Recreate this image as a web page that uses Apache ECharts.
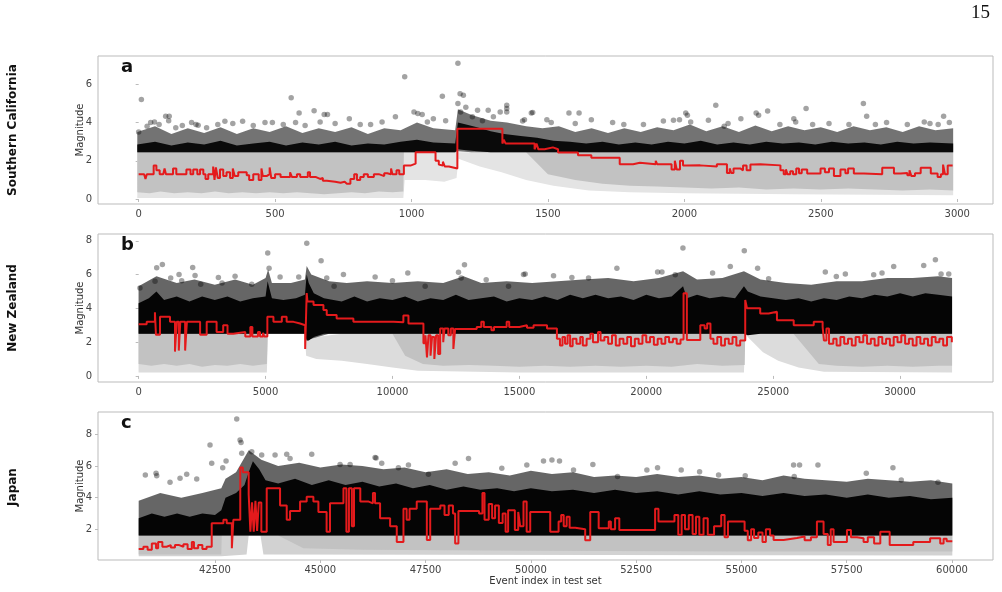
<!DOCTYPE html>
<html>
<head>
<meta charset="utf-8">
<script src="https://cdn.jsdelivr.net/npm/echarts@6/dist/echarts.min.js"></script>
<style>
  html, body { margin: 0; padding: 0; background: #fff; }
  #chart { width: 1002px; height: 592px; }
</style>
</head>
<body>
<div id="chart"></div>
<script>
(function() {
  'use strict';

  // tick labels
  var aXTicks = [0, 500, 1000, 1500, 2000, 2500, 3000];
  var bXTicks = [0, 5000, 10000, 15000, 20000, 25000, 30000];
  var cXTicks = [42500, 45000, 47500, 50000, 52500, 55000, 57500, 60000];
  var abYTicks = [0, 2, 4, 6];
  var bYTicks = [0, 2, 4, 6, 8];
  var cYTicks = [2, 4, 6, 8];

  var rowNames = ['Southern California', 'New Zealand', 'Japan'];
  var panelLetters = ['a', 'b', 'c'];

  // ---- a: Southern California ----
  // cloud envelopes: [event index, lower magnitude, upper magnitude]
  var aGraySparse = [[-5,0.05,2.45],[970,0.05,2.45],[975,1.0,2.45],[1050,1.0,2.45],[1120,0.9,2.45],
    [1165,1.1,2.45],[1172,2.1,2.45],[1250,1.7,2.45],[1330,1.4,2.45],[1420,1.0,2.45],[1520,0.7,2.45],
    [1650,0.45,2.45],[1800,0.35,2.45],[2000,0.3,2.45],[2400,0.25,2.45],[2985,0.2,2.45]];
  var aGrayDense = [[-5,0.35,2.45],[40,0.3,2.45],[80,0.4,2.45],[130,0.3,2.45],[180,0.35,2.45],
    [230,0.3,2.45],[280,0.4,2.45],[330,0.3,2.45],[380,0.35,2.45],[430,0.3,2.45],[480,0.35,2.45],
    [530,0.3,2.45],[580,0.35,2.45],[630,0.3,2.45],[680,0.25,2.45],[730,0.3,2.45],[780,0.35,2.45],
    [830,0.3,2.45],[880,0.4,2.45],[930,0.35,2.45],[970,0.4,2.45],[972,2.45,2.45],[1420,2.45,2.45],
    [1500,1.3,2.45],[1600,1.0,2.45],[1700,0.8,2.45],[1800,0.7,2.45],[1900,0.65,2.45],[2000,0.6,2.45],
    [2100,0.55,2.45],[2200,0.6,2.45],[2300,0.5,2.45],[2400,0.55,2.45],[2500,0.5,2.45],[2600,0.55,2.45],
    [2700,0.5,2.45],[2800,0.45,2.45],[2900,0.5,2.45],[2985,0.45,2.45]];
  var aBlackSparse = [[-5,2.45,3.5],[60,2.45,3.8],[120,2.45,3.4],[180,2.45,3.7],[240,2.45,3.45],
    [300,2.45,3.75],[360,2.45,3.4],[420,2.45,3.7],[480,2.45,3.5],[540,2.45,3.8],[600,2.45,3.45],
    [660,2.45,3.7],[720,2.45,3.5],[780,2.45,3.75],[840,2.45,3.4],[900,2.45,3.7],[960,2.45,3.6],
    [1020,2.45,4.0],[1080,2.45,3.7],[1160,2.45,3.6],[1170,2.5,4.7],[1220,2.45,4.4],[1290,2.45,4.1],
    [1350,2.45,4.0],[1420,2.45,3.8],[1480,2.45,3.7],[1540,2.45,3.8],[1600,2.45,3.5],[1660,2.45,3.7],
    [1720,2.45,3.45],[1780,2.45,3.7],[1840,2.45,3.5],[1900,2.45,3.75],[1960,2.45,3.6],[2020,2.45,3.9],
    [2080,2.45,3.55],[2140,2.45,3.8],[2200,2.45,3.5],[2260,2.45,3.85],[2320,2.45,3.55],[2380,2.45,3.8],
    [2440,2.45,3.6],[2500,2.45,3.75],[2560,2.45,3.5],[2620,2.45,3.8],[2680,2.45,3.6],[2740,2.45,3.75],
    [2800,2.45,3.5],[2860,2.45,3.8],[2920,2.45,3.6],[2985,2.45,3.7]];
  var aBlackDense = [[-5,2.45,2.85],[60,2.45,3.0],[120,2.45,2.8],[180,2.45,2.95],[240,2.45,2.85],
    [300,2.45,3.05],[360,2.45,2.8],[420,2.45,2.9],[480,2.45,3.0],[540,2.45,2.8],[600,2.45,2.95],
    [660,2.45,2.85],[720,2.45,3.0],[780,2.45,2.8],[840,2.45,2.9],[900,2.45,2.85],[960,2.45,3.0],
    [1020,2.45,3.1],[1080,2.45,2.95],[1160,2.45,2.9],[1170,2.6,4.0],[1200,2.55,3.9],[1240,2.5,3.75],
    [1290,2.45,3.55],[1340,2.45,3.4],[1400,2.45,3.3],[1460,2.45,3.2],[1520,2.45,3.05],[1580,2.45,3.0],
    [1640,2.45,2.9],[1700,2.45,3.0],[1760,2.45,2.85],[1820,2.45,2.95],[1880,2.45,2.85],[1940,2.45,3.0],
    [2000,2.45,2.9],[2060,2.45,3.05],[2120,2.45,2.85],[2180,2.45,2.95],[2240,2.45,2.85],[2300,2.45,3.0],
    [2360,2.45,2.9],[2420,2.45,2.95],[2480,2.45,2.85],[2540,2.45,3.0],[2600,2.45,2.9],[2660,2.45,2.95],
    [2720,2.45,2.85],[2780,2.45,3.0],[2840,2.45,2.9],[2900,2.45,2.95],[2985,2.45,2.9]];
  var aDots = [[10,5.2],[0,3.5],[31,3.8],[44,4.0],[58,4.03],[99,4.33],[112,4.33],[110,4.1],[136,3.73],
    [194,4.0],[210,3.9],[218,3.86],[249,3.73],[316,4.07],[381,4.07],[463,4.0],[490,4.0],[559,5.3],
    [588,4.5],[575,4.0],[643,4.62],[680,4.42],[692,4.42],[665,4.03],[772,4.2],[812,3.9],[892,4.03],
    [975,6.4],[941,4.3],[1009,4.55],[1023,4.47],[1039,4.42],[1058,4.03],[1113,5.37],[1125,4.1],
    [1170,7.1],[1170,5.0],[1178,5.5],[1190,5.43],[1180,4.55],[1199,4.8],[1242,4.64],[1281,4.64],
    [1349,4.9],[1349,4.73],[1349,4.55],[1325,4.55],[1407,4.08],[1444,4.52],[1223,4.3],[1260,4.1],
    [1439,4.5],[1414,4.15],[1496,4.15],[1512,4.0],[1577,4.5],[1614,4.5],[1659,4.15],[1737,4.0],
    [1778,3.9],[1923,4.08],[1960,4.12],[1982,4.15],[2005,4.5],[2011,4.38],[2023,4.03],[2088,4.12],
    [2115,4.9],[2146,3.8],[2207,4.2],[2263,4.5],[2272,4.38],[2305,4.6],[2401,4.2],[2408,4.03],
    [2446,4.73],[2470,3.9],[2603,3.9],[2656,5.0],[2668,4.33],[2741,4.0],[2817,3.9],[2879,4.03],
    [2950,4.33],[2971,4.0],[2930,3.9],[75,3.9],[160,3.85],[290,3.9],[345,3.95],[420,3.85],[530,3.9],
    [610,3.85],[720,3.95],[850,3.9],[1080,4.2],[1300,4.3],[1600,3.95],[1850,3.9],[2160,3.95],
    [2350,3.9],[2530,3.95],[2700,3.9],[2900,3.95]];
  // predicted completeness, step held from each point onward
  var aRed = [[0,1.3],[20,1.25],[25,1.05],[30,1.3],[47,1.3],[55,1.75],[65,1.5],[77,1.3],[90,1.3],
    [95,1.6],[100,1.3],[126,1.6],[138,1.3],[175,1.55],[190,1.3],[200,1.55],[215,1.3],[225,1.55],
    [237,1.3],[245,1.05],[255,1.3],[273,1.7],[278,1.0],[283,1.65],[290,1.1],[298,1.55],[310,1.2],
    [322,1.4],[335,1.1],[345,1.6],[352,1.2],[365,1.4],[396,1.25],[405,1.0],[420,1.3],[440,1.0],
    [450,1.6],[455,1.2],[469,1.3],[480,1.65],[486,1.1],[500,1.3],[520,1.15],[543,1.15],[555,1.4],
    [562,1.15],[580,1.3],[592,1.15],[620,1.4],[628,1.15],[650,1.05],[665,1.1],[675,0.95],[690,0.9],
    [720,0.85],[740,0.9],[755,0.8],[763,0.8],[776,1.05],[790,1.3],[800,1.0],[812,1.15],[825,1.3],
    [840,1.15],[862,1.3],[880,1.4],[886,1.2],[900,1.35],[911,1.3],[925,1.6],[930,1.3],[945,1.5],
    [955,1.3],[972,1.75],[996,1.85],[1015,2.45],[1088,2.0],[1100,1.8],[1107,1.75],[1115,1.95],
    [1122,1.7],[1137,1.6],[1168,3.68],[1333,2.9],[1338,3.1],[1345,2.9],[1451,2.6],[1458,2.9],
    [1465,2.6],[1488,2.7],[1518,2.6],[1537,2.43],[1610,2.29],[1659,2.16],[1763,1.82],[1812,1.9],
    [1837,1.82],[1895,2.0],[1900,1.82],[1953,1.54],[1965,2.0],[1972,1.54],[1984,2.0],[1995,1.75],
    [2009,1.76],[2058,1.7],[2119,1.82],[2156,1.36],[2166,1.6],[2172,1.36],[2180,1.6],[2205,1.5],
    [2215,1.75],[2228,1.5],[2242,1.8],[2254,1.82],[2278,1.76],[2352,1.5],[2364,1.29],[2372,1.55],
    [2378,1.29],[2388,1.45],[2398,1.3],[2410,1.6],[2420,1.35],[2430,1.55],[2450,1.33],[2499,1.6],
    [2515,1.4],[2530,1.6],[2548,1.2],[2572,1.55],[2590,1.35],[2600,1.6],[2621,1.33],[2658,1.29],
    [2725,1.64],[2768,1.33],[2793,1.36],[2817,1.25],[2825,1.5],[2832,1.2],[2845,1.35],[2866,1.64],
    [2903,1.33],[2928,1.15],[2940,1.3],[2948,1.8],[2955,1.3],[2965,1.75],[2983,1.75]];

  // ---- b: New Zealand ----
  var bGraySparse = [[-5,0.2,2.5],[5050,0.2,2.5],[5100,2.5,2.5],[6540,2.5,2.5],[6600,1.2,2.4],
    [7000,1.0,2.3],[8000,0.9,2.5],[9000,0.7,2.5],[10000,0.5,2.5],[11000,0.3,2.5],[15000,0.2,2.5],
    [20000,0.2,2.5],[23850,0.2,2.5],[23900,2.5,2.5],[24000,2.3,2.5],[24600,1.4,2.5],[25200,0.9,2.5],
    [26000,0.5,2.5],[27000,0.25,2.5],[32050,0.2,2.5]];
  var bGrayDense = [[-5,0.7,2.5],[500,0.6,2.5],[1000,0.7,2.5],[1500,0.6,2.5],[2000,0.7,2.5],
    [2500,0.55,2.5],[3000,0.65,2.5],[3500,0.6,2.5],[4000,0.7,2.5],[4500,0.6,2.5],[5050,0.7,2.5],
    [5080,2.5,2.5],[10000,2.5,2.5],[10500,1.2,2.5],[11200,0.7,2.5],[12000,0.6,2.5],[13000,0.65,2.5],
    [14000,0.6,2.5],[15000,0.55,2.5],[16000,0.6,2.5],[17000,0.55,2.5],[18000,0.6,2.5],[19000,0.55,2.5],
    [20000,0.6,2.5],[21000,0.55,2.5],[22000,0.7,2.5],[23000,0.6,2.5],[23880,0.65,2.5],[23900,2.5,2.5],
    [25800,2.5,2.5],[26800,0.7,2.5],[27500,0.6,2.5],[28500,0.55,2.5],[29500,0.6,2.5],[30500,0.55,2.5],
    [31500,0.6,2.5],[32050,0.6,2.5]];
  var bBlackSparse = [[-5,2.5,5.3],[700,2.5,5.9],[1500,2.5,5.5],[2200,2.5,5.7],[3000,2.5,5.4],
    [3800,2.5,5.7],[4500,2.5,5.4],[5000,2.5,5.8],[5100,2.5,6.3],[5250,2.5,5.5],[6000,2.5,5.5],
    [6550,2.5,5.7],[6620,2.1,6.5],[6800,2.2,6.0],[7500,2.5,5.6],[8200,2.5,5.5],[9000,2.5,5.6],
    [10000,2.5,5.5],[11000,2.5,5.6],[12000,2.5,5.5],[12800,2.5,5.9],[13500,2.5,5.5],[14500,2.5,5.6],
    [15500,2.5,5.5],[16500,2.5,5.6],[17500,2.5,5.7],[18500,2.5,5.8],[19500,2.5,5.6],[20500,2.5,5.8],
    [21450,2.5,6.2],[22000,2.5,5.7],[23000,2.5,5.8],[23850,2.5,6.2],[24500,2.5,5.7],[25500,2.5,5.5],
    [26500,2.5,5.4],[27500,2.5,5.6],[28500,2.5,5.6],[29500,2.5,5.8],[30500,2.5,5.8],[31500,2.5,5.9],
    [32050,2.5,5.8]];
  var bBlackDense = [[-5,2.5,4.3],[400,2.5,4.6],[700,2.5,5.0],[1000,2.5,4.5],[1500,2.5,4.7],
    [2000,2.5,4.4],[2500,2.5,4.7],[3000,2.5,4.5],[3500,2.5,4.7],[4000,2.5,4.4],[4500,2.5,4.6],
    [5000,2.5,4.7],[5080,2.5,5.6],[5250,2.5,4.6],[5700,2.5,4.5],[6200,2.5,4.6],[6550,2.5,4.8],
    [6620,2.1,6.0],[6700,2.1,5.5],[6900,2.3,4.9],[7300,2.5,4.6],[8000,2.5,4.4],[8500,2.5,4.7],
    [9000,2.5,4.4],[9500,2.5,4.6],[10000,2.5,4.5],[10500,2.5,4.7],[11000,2.5,4.4],[11500,2.5,4.6],
    [12000,2.5,4.5],[12500,2.5,4.8],[13000,2.5,4.5],[13500,2.5,4.6],[14000,2.5,4.7],[14500,2.5,4.4],
    [15000,2.5,4.6],[15500,2.5,4.5],[16000,2.5,4.7],[16500,2.5,4.5],[17000,2.5,4.8],[17500,2.5,4.6],
    [18000,2.5,4.8],[18500,2.5,4.6],[19000,2.5,4.7],[19500,2.5,4.5],[20000,2.5,4.8],[20500,2.5,4.6],
    [21000,2.5,4.7],[21450,2.5,5.3],[21600,2.5,4.6],[22000,2.5,4.8],[22500,2.5,4.6],[23000,2.5,4.7],
    [23500,2.5,4.6],[23850,2.5,5.3],[24000,2.4,5.0],[24500,2.5,4.7],[25000,2.5,4.6],[25500,2.5,4.5],
    [26000,2.5,4.6],[26500,2.5,4.4],[27000,2.5,4.6],[27500,2.5,4.5],[28000,2.5,4.7],[28500,2.5,4.6],
    [29000,2.5,4.8],[29500,2.5,4.7],[30000,2.5,4.9],[30500,2.5,4.7],[31000,2.5,4.9],[31500,2.5,4.8],
    [32050,2.5,4.7]];
  var bDots = [[50,5.2],[710,6.4],[933,6.6],[644,5.6],[1261,5.8],[1590,6.0],[1695,5.63],[2128,6.42],
    [2221,5.95],[2444,5.43],[3141,5.83],[3285,5.5],[3798,5.9],[4455,5.43],[5085,7.27],[5138,6.38],
    [5572,5.85],[6307,5.85],[6623,7.85],[7188,6.82],[7411,5.79],[8068,6.0],[7700,5.3],[9317,5.85],
    [10000,5.63],[10604,6.09],[11288,5.3],[12602,6.13],[12707,5.79],[12838,6.58],[13693,5.69],
    [14573,5.3],[15164,6.0],[15230,6.03],[16347,5.93],[17069,5.83],[17726,5.79],[18843,6.38],
    [20447,6.15],[20618,6.15],[21445,7.57],[21143,5.99],[22614,6.09],[23311,6.48],[23863,7.41],
    [24388,6.38],[24822,5.75],[27056,6.15],[27490,5.89],[27845,6.03],[28962,5.99],[29290,6.09],
    [29750,6.48],[30933,6.54],[31393,6.88],[31617,6.03],[31919,6.03]];
  var bRed = [[0,3.06],[315,3.2],[640,3.77],[680,2.43],[840,3.5],[1235,3.2],[1430,1.44],[1500,3.2],
    [1580,1.5],[1640,3.2],[1830,1.5],[1900,3.2],[2420,2.43],[2680,3.2],[3070,2.6],[3330,3.0],
    [3500,2.5],[3730,2.6],[4200,2.33],[4400,2.9],[4480,2.33],[4700,2.6],[4780,2.33],[4900,2.55],
    [4950,2.33],[5070,3.5],[5310,3.2],[5640,3.5],[5830,3.2],[6100,3.1],[6360,3.0],[6560,1.6],
    [6620,4.9],[6650,4.4],[6890,4.2],[7280,3.9],[7410,3.6],[7800,3.4],[8460,3.2],[10040,3.18],
    [10430,3.58],[10630,3.1],[11220,1.94],[11300,2.4],[11360,1.1],[11420,2.4],[11500,1.2],
    [11560,2.3],[11650,1.0],[11720,2.4],[11800,1.3],[11880,2.8],[12000,2.0],[12050,2.8],[12200,2.4],
    [12300,2.8],[12400,1.6],[12470,2.78],[13320,2.9],[13500,3.2],[13600,2.9],[13900,2.7],[14000,2.9],
    [14500,3.2],[14600,2.9],[15000,3.0],[15300,2.85],[15560,3.0],[16090,2.8],[16480,2.2],[16600,1.8],
    [16700,2.3],[16800,1.9],[16900,2.4],[17000,1.75],[17100,2.2],[17250,1.9],[17400,2.3],[17500,1.8],
    [17650,2.2],[17800,2.5],[17900,2.0],[18100,2.6],[18200,2.1],[18350,2.3],[18500,1.9],[18650,2.4],
    [18800,1.8],[18950,2.2],[19100,1.9],[19250,2.3],[19400,1.75],[19550,2.2],[19700,1.9],[19850,2.4],
    [20000,2.0],[20150,2.3],[20300,1.85],[20450,2.2],[20600,1.9],[20750,2.3],[20900,2.0],[21050,2.2],
    [21200,1.9],[21350,2.15],[21470,4.9],[21600,2.13],[22130,3.0],[22300,2.8],[22400,3.1],[22530,2.2],
    [22650,1.9],[22800,2.3],[22950,1.8],[23100,2.2],[23250,1.9],[23400,2.3],[23550,1.8],[23700,2.1],
    [23900,4.5],[23970,4.0],[24490,3.7],[24820,3.8],[25150,3.3],[25810,3.0],[26600,3.2],[26950,2.9],
    [27000,2.1],[27100,2.8],[27200,1.9],[27370,2.2],[27500,1.8],[27650,2.3],[27800,1.9],[27950,2.2],
    [28100,1.8],[28250,2.3],[28400,2.0],[28550,2.4],[28700,1.9],[28850,2.2],[29000,1.8],[29150,2.3],
    [29300,1.9],[29450,2.2],[29600,1.8],[29750,2.3],[29900,2.0],[30050,2.4],[30200,1.9],[30350,2.2],
    [30500,1.8],[30650,2.3],[30800,1.9],[30950,2.2],[31100,1.8],[31250,2.3],[31400,2.0],[31550,2.2],
    [31700,1.8],[31850,2.3],[32040,2.0]];

  // ---- c: Japan ----
  var cGraySparse = [[40688,0.3,1.6],[42650,0.3,1.6],[43250,0.4,1.6],[43300,1.6,1.6],[43580,1.6,1.6],
    [43650,0.4,1.6],[60007,0.35,1.6]];
  var cGrayDense = [[40688,0.4,1.6],[42650,0.4,1.6],[42660,1.6,1.6],[44000,1.6,1.6],[44600,0.8,1.6],
    [46000,0.7,1.6],[50000,0.65,1.6],[55000,0.6,1.6],[60007,0.6,1.6]];
  var cBlackSparse = [[40688,1.6,3.8],[41200,1.6,4.3],[41700,1.6,4.0],[42200,1.6,4.3],[42650,1.6,4.6],
    [42750,1.6,5.2],[43000,1.6,5.6],[43300,1.6,7.0],[43600,1.6,6.4],[44000,1.6,6.0],[44500,1.6,6.2],
    [45000,1.6,5.9],[45500,1.6,6.1],[46000,1.6,6.0],[46500,1.6,5.8],[47000,1.6,5.9],[47500,1.6,5.6],
    [48000,1.6,5.8],[48500,1.6,5.5],[49000,1.6,5.6],[49500,1.6,5.4],[50000,1.6,5.7],[50500,1.6,5.5],
    [51000,1.6,5.6],[51500,1.6,5.3],[52000,1.6,5.4],[52500,1.6,5.3],[53000,1.6,5.5],[53500,1.6,5.3],
    [54000,1.6,5.4],[54500,1.6,5.2],[55000,1.6,5.3],[55500,1.6,5.1],[56000,1.6,5.4],[56500,1.6,5.2],
    [57000,1.6,5.1],[57500,1.6,5.0],[58000,1.6,5.2],[58500,1.6,5.1],[59000,1.6,5.0],[59500,1.6,5.1],
    [60007,1.6,4.9]];
  var cBlackDense = [[40688,1.6,2.7],[41000,1.6,3.0],[41300,1.6,2.8],[41600,1.6,3.0],[41900,1.6,2.8],
    [42200,1.6,3.0],[42500,1.6,2.9],[42650,1.6,3.2],[42750,1.6,4.0],[43000,1.6,4.3],[43200,1.6,4.8],
    [43300,1.6,5.6],[43400,1.6,6.3],[43550,1.6,5.8],[43700,1.6,5.1],[44000,1.6,4.9],[44400,1.6,5.2],
    [44800,1.6,4.8],[45200,1.6,5.1],[45600,1.6,4.8],[46000,1.6,5.0],[46400,1.6,4.7],[46800,1.6,4.9],
    [47200,1.6,4.6],[47600,1.6,4.8],[48000,1.6,4.5],[48400,1.6,4.7],[48800,1.6,4.5],[49200,1.6,4.6],
    [49600,1.6,4.4],[50000,1.6,4.6],[50500,1.6,4.4],[51000,1.6,4.5],[51500,1.6,4.3],[52000,1.6,4.5],
    [52500,1.6,4.3],[53000,1.6,4.4],[53500,1.6,4.2],[54000,1.6,4.4],[54500,1.6,4.2],[55000,1.6,4.3],
    [55500,1.6,4.1],[56000,1.6,4.3],[56500,1.6,4.1],[57000,1.6,4.2],[57500,1.6,4.0],[58000,1.6,4.2],
    [58500,1.6,4.0],[59000,1.6,4.1],[59500,1.6,3.9],[60007,1.6,4.0]];
  var cDots = [[40846,5.43],[41100,5.54],[41116,5.39],[41432,4.97],[41670,5.22],[41828,5.47],
    [42066,5.18],[42382,7.33],[42422,6.17],[42683,5.89],[42763,6.32],[43016,8.97],[43095,7.64],
    [43119,7.49],[43135,6.8],[43372,6.9],[43609,6.69],[43926,6.69],[44203,6.74],[44282,6.48],
    [44797,6.74],[45470,6.1],[45708,6.1],[46301,6.53],[46325,6.5],[46459,6.17],[46855,5.89],
    [47093,6.06],[47568,5.47],[48519,6.48],[48202,6.17],[49310,5.85],[49904,6.06],[50300,6.32],
    [50500,6.38],[50680,6.32],[51013,5.75],[51472,6.1],[52058,5.33],[52755,5.75],[53008,5.89],
    [53570,5.75],[54006,5.64],[54457,5.43],[55090,5.39],[56238,6.06],[56380,6.06],[56254,5.33],
    [56816,6.06],[57964,5.54],[58597,5.89],[58795,5.12],[59666,4.97]];
  var cRed = [[40688,0.76],[40800,0.9],[40900,0.7],[41000,1.1],[41100,0.8],[41150,1.2],[41250,0.9],
    [41350,1.0],[41450,0.85],[41550,1.0],[41650,0.9],[41750,1.05],[41850,0.75],[41950,1.2],[42000,0.8],
    [42100,1.0],[42200,0.75],[42300,0.9],[42422,2.38],[42700,2.6],[42778,2.38],[42900,0.8],[42936,2.6],
    [43100,5.9],[43160,5.6],[43300,4.2],[43340,1.85],[43380,3.7],[43420,1.85],[43460,3.8],[43500,1.9],
    [43540,3.7],[43600,1.85],[43728,4.6],[44045,3.5],[44203,2.6],[44282,3.16],[44520,3.75],[44677,4.06],
    [44836,3.75],[44955,3.1],[45150,1.85],[45230,3.64],[45550,4.6],[45620,1.85],[45680,4.6],[45750,2.2],
    [45800,4.6],[45950,3.75],[46150,3.64],[46250,4.3],[46300,3.64],[46420,2.7],[46658,2.2],[46816,1.2],
    [46975,3.3],[47050,2.6],[47120,3.3],[47290,3.75],[47530,1.33],[47610,3.3],[47850,3.5],[47950,2.9],
    [48050,3.5],[48150,3.0],[48202,1.1],[48280,3.16],[48770,3.0],[48850,4.3],[48900,2.6],[49000,3.6],
    [49080,2.7],[49150,3.5],[49240,2.4],[49330,3.0],[49400,1.85],[49460,3.2],[49620,1.96],[49700,3.1],
    [49746,2.2],[49825,3.75],[49900,1.85],[49985,3.1],[50140,3.1],[50460,1.85],[50658,2.5],[50720,2.9],
    [50780,2.2],[50850,2.8],[50920,2.1],[51054,2.0],[51290,1.3],[51410,3.1],[51610,2.06],[51850,2.5],
    [51900,2.0],[52000,2.7],[52100,1.96],[52318,1.96],[52950,3.3],[53030,2.5],[53410,2.9],[53500,1.65],
    [53580,2.9],[53660,2.0],[53750,2.9],[53840,1.7],[53920,2.8],[54000,1.65],[54100,2.7],[54200,1.65],
    [54350,2.2],[54520,2.9],[54600,1.5],[54680,2.5],[55075,1.9],[55150,1.3],[55230,2.0],[55300,1.45],
    [55400,1.8],[55500,1.2],[55580,2.0],[55680,1.6],[55763,1.33],[56000,1.45],[56317,1.54],[56500,1.3],
    [56650,1.5],[56792,2.5],[56950,1.7],[57050,1.0],[57120,2.0],[57188,1.2],[57505,1.96],[57600,1.5],
    [57743,1.43],[57900,1.2],[58000,1.5],[58150,1.1],[58297,1.85],[58520,1.0],[59080,1.2],[59480,1.43],
    [59720,1.1],[59800,1.4],[59873,1.25],[60007,1.25]];

  var FONT = 'DejaVu Sans';
  var RED = '#e41a1c';
  var tops = [56, 234, 412];
  var xRanges = [[-149, 3131], [-1603, 33663], [39722, 60973]];
  var yRanges = [[-0.26, 7.48], [-0.36, 8.4], [0.06, 9.41]];
  var xTicks = [aXTicks, bXTicks, cXTicks];
  var yTicks = [abYTicks, bYTicks, cYTicks];

  // whole cloud band drawn as one polygon: upper edge forward, lower edge back
  function bandSeries(rows, color, idx, z) {
    return {
      type: 'custom',
      xAxisIndex: idx,
      yAxisIndex: idx,
      z: z,
      silent: true,
      clip: true,
      data: rows,
      encode: { x: 0, y: [1, 2] },
      renderItem: function(params, api) {
        if (params.dataIndex !== 0) {
          return null;
        }
        var pts = [];
        rows.forEach(function(r) { pts.push(api.coord([r[0], r[2]])); });
        for (var i = rows.length - 1; i >= 0; i--) {
          pts.push(api.coord([rows[i][0], rows[i][1]]));
        }
        return { type: 'polygon', shape: { points: pts }, style: { fill: color } };
      }
    };
  }

  function dotSeries(rows, idx) {
    return {
      type: 'scatter', xAxisIndex: idx, yAxisIndex: idx, z: 5, silent: true,
      symbolSize: 5.5,
      itemStyle: { color: 'rgba(0,0,0,0.45)' },
      data: rows
    };
  }

  function stepSeries(rows, idx) {
    return {
      type: 'line', xAxisIndex: idx, yAxisIndex: idx, z: 6, silent: true,
      step: 'end', showSymbol: false,
      lineStyle: { color: RED, width: 2 },
      data: rows
    };
  }

  var grids = [], xAxes = [], yAxes = [];
  for (var i = 0; i < 3; i++) {
    grids.push({
      left: 98, top: tops[i], width: 895, height: 148,
      show: true, borderColor: '#bbbbbb', borderWidth: 1, backgroundColor: 'transparent'
    });
    xAxes.push({
      gridIndex: i, type: 'value', min: xRanges[i][0], max: xRanges[i][1],
      axisLine: { show: false }, splitLine: { show: false },
      axisTick: { show: true, length: 3, customValues: xTicks[i], lineStyle: { color: '#bbbbbb' } },
      axisLabel: {
        customValues: xTicks[i], fontFamily: FONT, fontSize: 10, color: '#444', margin: 5,
        formatter: function(v) { return String(v); }
      },
      name: i === 2 ? 'Event index in test set' : '',
      nameLocation: 'middle', nameGap: 16,
      nameTextStyle: { fontFamily: FONT, fontSize: 10, color: '#333' }
    });
    yAxes.push({
      gridIndex: i, type: 'value', min: yRanges[i][0], max: yRanges[i][1],
      axisLine: { show: false }, splitLine: { show: false },
      axisTick: { show: true, length: 3, customValues: yTicks[i], lineStyle: { color: '#bbbbbb' } },
      axisLabel: { customValues: yTicks[i], fontFamily: FONT, fontSize: 10, color: '#444', margin: 6 },
      name: 'Magnitude', nameLocation: 'middle', nameGap: 13, nameMoveOverlap: false,
      nameTextStyle: { fontFamily: FONT, fontSize: 10, color: '#333' }
    });
  }

  var series = [
    bandSeries(aGraySparse, '#e4e4e4', 0, 1), bandSeries(aGrayDense, '#c2c2c2', 0, 2),
    bandSeries(aBlackSparse, 'rgba(0,0,0,0.55)', 0, 3), bandSeries(aBlackDense, '#0a0a0a', 0, 4),
    dotSeries(aDots, 0), stepSeries(aRed, 0),
    bandSeries(bGraySparse, '#dcdcdc', 1, 1), bandSeries(bGrayDense, '#c2c2c2', 1, 2),
    bandSeries(bBlackSparse, 'rgba(0,0,0,0.6)', 1, 3), bandSeries(bBlackDense, '#050505', 1, 4),
    dotSeries(bDots, 1), stepSeries(bRed, 1),
    bandSeries(cGraySparse, '#d2d2d2', 2, 1), bandSeries(cGrayDense, '#c2c2c2', 2, 2),
    bandSeries(cBlackSparse, 'rgba(0,0,0,0.6)', 2, 3), bandSeries(cBlackDense, '#050505', 2, 4),
    dotSeries(cDots, 2), stepSeries(cRed, 2)
  ];

  var rowCenters = [130, 308, 487];
  var letterY = [67, 245, 423];
  var graphic = [{
    type: 'text', right: 12, top: 4,
    style: { text: '15', font: '19px "Liberation Serif"', fill: '#111' }
  }];
  rowNames.forEach(function(name, k) {
    graphic.push({
      type: 'text', x: 13, y: rowCenters[k], rotation: Math.PI / 2,
      style: { text: name, font: 'bold 12px "DejaVu Sans"', fill: '#111', align: 'center', verticalAlign: 'middle' }
    });
    graphic.push({
      type: 'text', x: 121, y: letterY[k], z: 10,
      style: { text: panelLetters[k], font: 'bold 18px "DejaVu Sans"', fill: '#111', align: 'left', verticalAlign: 'middle' }
    });
  });

  var chart = echarts.init(document.getElementById('chart'), null, { renderer: 'canvas' });
  chart.setOption({
    animation: false,
    backgroundColor: '#fff',
    grid: grids,
    xAxis: xAxes,
    yAxis: yAxes,
    series: series,
    graphic: graphic
  });
})();
</script>
</body>
</html>
